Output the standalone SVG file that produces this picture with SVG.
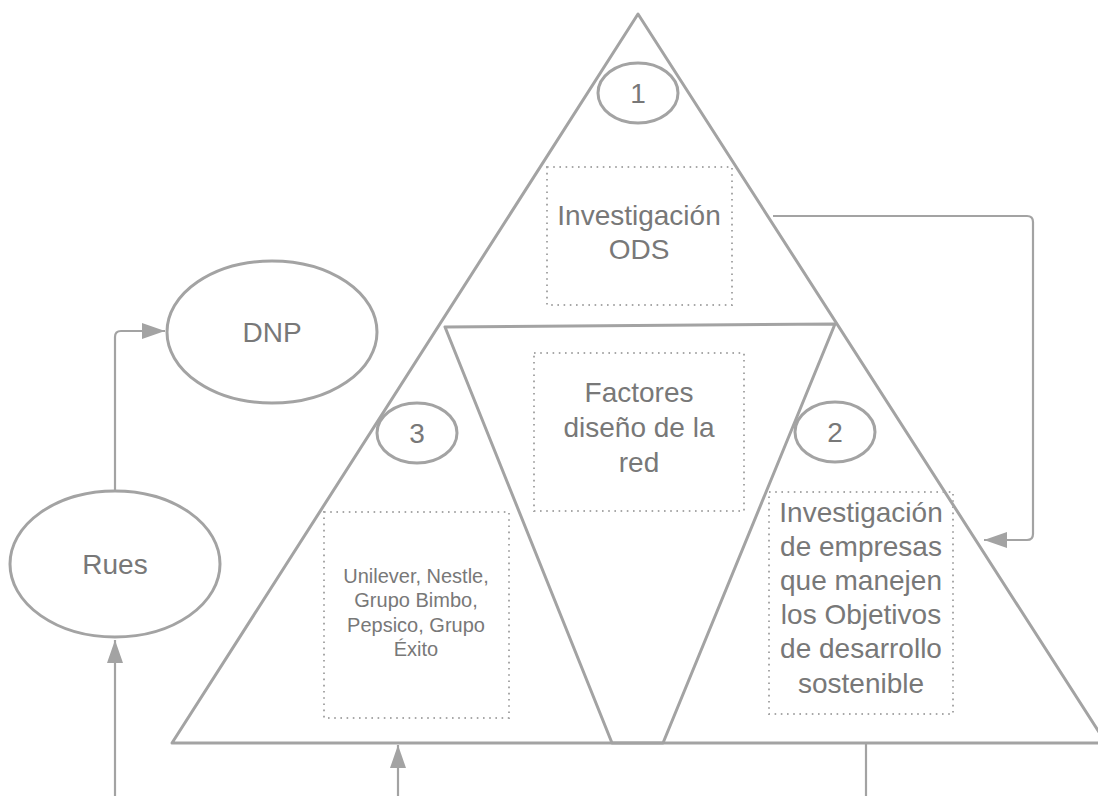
<svg xmlns="http://www.w3.org/2000/svg" width="1098" height="796" viewBox="0 0 1098 796">
<style>
.ln{fill:none;stroke:#a3a3a3;stroke-width:3;stroke-linejoin:round}
.el{fill:none;stroke:#a3a3a3;stroke-width:3}
.cn{fill:none;stroke:#a3a3a3;stroke-width:2.2}
.dot{fill:none;stroke:#a8a8a8;stroke-width:2;stroke-dasharray:1.6 4.6}
.t{font-family:"Liberation Sans",Arial,sans-serif;fill:#787878;text-anchor:middle;font-size:28px}
.s{font-size:20px}
</style>
<defs>
<marker id="arr" markerUnits="userSpaceOnUse" markerWidth="24" markerHeight="16" refX="23" refY="8" orient="auto"><path d="M0,0 L23,8 L0,16 z" fill="#a3a3a3"/></marker>
</defs>
<rect width="1098" height="796" fill="#ffffff"/>
<g id="connectors">
<path class="cn" d="M115,491 V337 Q115,331 121,331 H165" marker-end="url(#arr)"/>
<path class="cn" d="M125,812 Q115,812 115,802 V640" marker-end="url(#arr)"/>
<path class="cn" d="M866,744 V802 Q866,812 856,812 H408 Q398,812 398,802 V745" marker-end="url(#arr)"/>
<path class="cn" d="M773,216 H1027 Q1033,216 1033,222 V534 Q1033,540 1027,540 H984" marker-end="url(#arr)"/>
</g>
<g id="pyramid">
<polygon class="ln" points="638,14 1106,743 172,743"/>
<polygon class="ln" points="445,327 835,324 663,743 612,743"/>
</g>
<g id="n1"><ellipse class="el" cx="638" cy="93" rx="40" ry="30"/><text class="t" x="638" y="103">1</text></g>
<g id="ods"><rect class="dot" x="547" y="167" width="185" height="138"/><text class="t" x="639" y="225">Investigación</text><text class="t" x="639" y="259">ODS</text></g>
<g id="factores"><rect class="dot" x="534" y="353" width="210" height="158"/><text class="t" x="639" y="402">Factores</text><text class="t" x="639" y="437">diseño de la</text><text class="t" x="639" y="472">red</text></g>
<g id="n3"><ellipse class="el" cx="417" cy="433" rx="40" ry="30"/><text class="t" x="417" y="443">3</text></g>
<g id="n2"><ellipse class="el" cx="835" cy="432" rx="40" ry="30"/><text class="t" x="835" y="442">2</text></g>
<g id="empresas"><rect class="dot" x="324" y="512" width="185" height="206"/><text class="t s" x="416" y="583">Unilever, Nestle,</text><text class="t s" x="416" y="607">Grupo Bimbo,</text><text class="t s" x="416" y="632">Pepsico, Grupo</text><text class="t s" x="416" y="656">Éxito</text></g>
<g id="investigacion"><rect class="dot" x="769" y="492" width="184" height="222"/><text class="t" x="861" y="522">Investigación</text><text class="t" x="861" y="556">de empresas</text><text class="t" x="861" y="590">que manejen</text><text class="t" x="861" y="624">los Objetivos</text><text class="t" x="861" y="658">de desarrollo</text><text class="t" x="861" y="693">sostenible</text></g>
<g id="dnp"><ellipse class="el" cx="272" cy="332" rx="105" ry="71"/><text class="t" x="272" y="342">DNP</text></g>
<g id="rues"><ellipse class="el" cx="115" cy="564" rx="105" ry="73"/><text class="t" x="115" y="574">Rues</text></g>
</svg>
